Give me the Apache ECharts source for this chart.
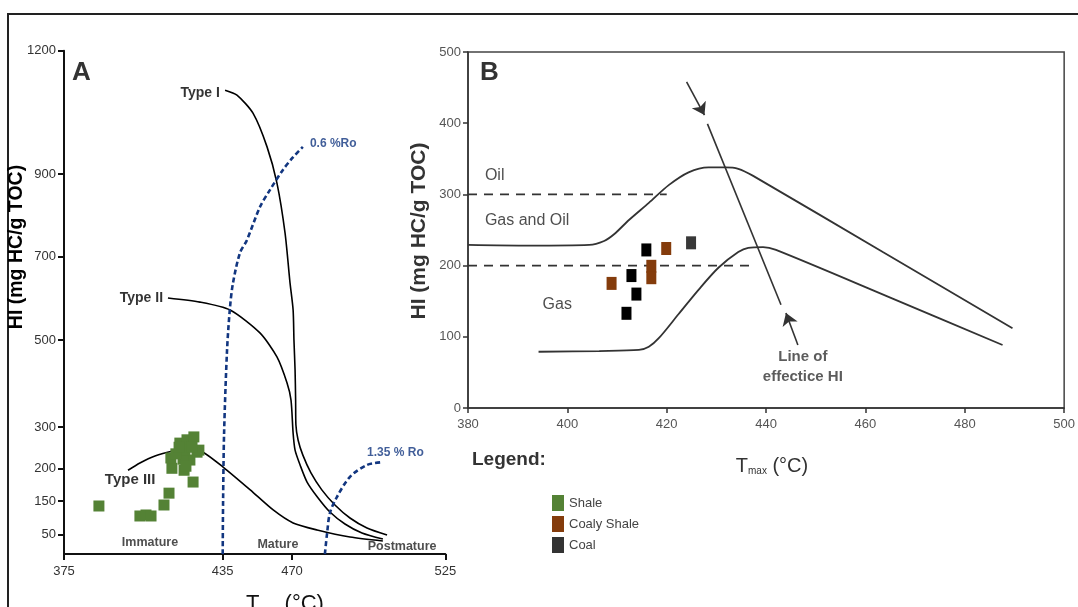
<!DOCTYPE html>
<html>
<head>
<meta charset="utf-8">
<script src="https://cdn.jsdelivr.net/npm/echarts@6/dist/echarts.min.js"></script>
<style>
  html, body { margin: 0; padding: 0; background: #fff; }
  #main { width: 1078px; height: 607px; }
</style>
</head>
<body>
<div id="main"></div>
<script>
// ---- panel A : HI vs Tmax, kerogen type curves ----
var aXTicks = [375, 435, 470, 525];
var aYTicks = [50, 150, 200, 300, 500, 700, 900, 1200];

var shaleTmax = [388.2, 403.7, 406.0, 407.9, 412.8, 414.7, 423.8, 415.8, 420.4, 415.4, 418.8, 421.5, 424.1, 425.3, 422.6, 420.0, 426.0, 420.7, 417.3, 423.4, 418.5, 421.1];
var shaleHI   = [135, 105, 108, 105, 138, 162, 179, 200, 197, 225, 261, 269, 276, 239, 220, 222, 244, 244, 235, 251, 251, 205];

var typeI = [[436.2, 1104], [442.2, 1092], [450.3, 1048], [457.4, 966], [462.4, 878], [466.5, 757], [469.0, 637], [470.4, 572], [470.7, 500], [471.1, 431], [471.3, 362], [471.4, 305], [472.2, 268], [473.9, 232], [476.8, 193], [480.7, 167], [485.4, 138], [490.8, 99], [496.9, 69], [504.1, 48]];
var typeII = [[414.3, 601], [426.4, 591], [438.7, 572], [453.8, 517], [462.4, 461], [467.5, 401], [469.5, 362], [470.4, 285], [471.1, 244], [472.9, 208], [475.4, 179], [479.3, 155], [483.6, 117], [489.0, 81], [495.1, 54], [502.6, 38]];
var typeIII = [[399.2, 197], [403.7, 213], [409.4, 230], [416.2, 242], [422.6, 249], [427.6, 239], [435.2, 203], [448.9, 167], [460.5, 123], [470.4, 84], [479.0, 63], [490.8, 43], [502.6, 33]];
var ro06 = [[435, 0], [435.2, 151], [435.7, 285], [437.2, 477], [438.7, 579], [440.2, 637], [443.7, 709], [447.2, 740], [453.8, 820], [458.8, 861], [465.4, 910], [470.4, 941], [473.9, 966]];
var ro135 = [[481.8, 0], [482.6, 54], [483.6, 114], [486.1, 156], [490.8, 187], [496.9, 208], [502.6, 215]];

// text in panel A: [text, Tmax, HI]
var aNotesLeft = [['Type I', 434.7, 1097], ['Type II', 413.2, 601]];
var aNotesRight = [['0.6 %Ro', 475.7, 973], ['1.35 % Ro', 496.2, 237]];
var aNotesCenter = [['Type III', 400, 182], ['Immature', 407.5, 30], ['Mature', 462.9, 25], ['Postmature', 509.5, 20]];

// ---- panel B : HI vs Tmax, oil / gas windows ----
var bXTicks = [380, 400, 420, 440, 460, 480, 500];
var bYTicks = [0, 100, 200, 300, 400, 500];

var coalyTmax = [408.9, 416.9, 416.9, 419.9];
var coalyHI   = [175, 199, 183, 224];
var coalTmax  = [411.9, 412.9, 413.9, 415.9, 424.9];
var coalHI    = [133, 186, 160, 222, 232];

var oilLine = [[380, 229], [392.4, 228], [404.4, 229], [407.4, 234.6], [409.4, 244], [412.4, 264], [416.4, 288], [420.4, 313], [424.4, 331], [428.4, 338], [431.8, 338], [434.4, 336], [437.4, 326], [463.5, 219], [489.6, 112]];
var gasLine = [[394.2, 79], [406.4, 80], [414.4, 81.5], [416.4, 86], [418.4, 98], [422.4, 132], [426.4, 166], [430.4, 197], [434.4, 219], [436.4, 225], [439.4, 226], [442, 222], [465, 155], [487.6, 88.5]];
var oilLimit = [[380, 300], [420, 300]];
var gasLimit = [[380, 200], [437.8, 200]];
var effHI = [[428.2, 399], [443, 145]];
var effArrowTop = [[424, 458], [427.6, 411.5]];
var effArrowBottom = [[446.4, 88.5], [444, 133.4]];

var bNotes = [['Oil', 383, 327], ['Gas and Oil', 383, 262.6], ['Gas', 394.6, 144.7]];

// ---------------------------------------------------------------
var FONT = 'Liberation Sans, Arial, sans-serif';
var NARROW = '"Liberation Sans Narrow", "Arial Narrow", Liberation Sans, sans-serif';

// panel A axes are hand drawn and not linear: piecewise scale
var aXKnots = { vals: [375, 435, 470, 525], pos: [0, 158.7, 228, 381.3] };
var aYKnots = { vals: [0, 50, 150, 200, 300, 500, 700, 900, 1200], pos: [0, 19.7, 53, 85.7, 127, 214, 297.3, 380, 503.3] };

function piece(v, k) {
  var i = 0;
  while (i < k.vals.length - 2 && v > k.vals[i + 1]) i++;
  return k.pos[i] + (v - k.vals[i]) * (k.pos[i + 1] - k.pos[i]) / (k.vals[i + 1] - k.vals[i]);
}
function ax(t) { return piece(t, aXKnots); }
function ay(h) { return piece(h, aYKnots); }
function toA(pts) { return pts.map(function (p) { return [ax(p[0]), ay(p[1])]; }); }
function tickName(list, fn) {
  return function (v) {
    for (var i = 0; i < list.length; i++) {
      if (Math.abs(fn(list[i]) - v) < 0.05) return String(list[i]);
    }
    return '';
  };
}
function zip(xs, ys) { return xs.map(function (x, i) { return [x, ys[i]]; }); }

function curveA(name, pts) {
  return {
    name: name, type: 'line', xAxisIndex: 0, yAxisIndex: 0,
    data: toA(pts), smooth: 0.25, showSymbol: false, silent: true,
    lineStyle: { color: '#000', width: 1.6 }, z: 3
  };
}
function roA(name, pts) {
  return {
    name: name, type: 'line', xAxisIndex: 0, yAxisIndex: 0,
    data: toA(pts), smooth: 0.3, showSymbol: false, silent: true,
    lineStyle: { color: '#123680', width: 2.6, type: [5, 3] }, z: 3
  };
}
function notes(list, xi, yi, pos, style, conv) {
  return {
    type: 'scatter', xAxisIndex: xi, yAxisIndex: yi, symbolSize: 0, silent: true, z: 10,
    data: list.map(function (n) {
      var c = conv ? [ax(n[1]), ay(n[2])] : [n[1], n[2]];
      return { value: c, name: n[0] };
    }),
    label: Object.assign({ show: true, position: pos, distance: 2, formatter: '{b}' }, style)
  };
}
function lineB(data, style, smooth) {
  return {
    type: 'line', xAxisIndex: 1, yAxisIndex: 1, data: data, smooth: smooth || 0,
    showSymbol: false, silent: true, lineStyle: style, z: 3
  };
}

var chart = echarts.init(document.getElementById('main'));

var axisA = { color: '#111', width: 2 };

var option = {
  animation: false,
  grid: [
    { left: 64, top: 50.7, width: 381.3, height: 503.3 },
    { left: 468, top: 52, width: 600, height: 356, show: true, borderColor: '#444', borderWidth: 1.5 }
  ],
  xAxis: [
    {
      gridIndex: 0, type: 'value', min: 0, max: 381.3,
      axisLine: { onZero: false, lineStyle: axisA },
      axisTick: { customValues: aXTicks.map(ax), length: 6, lineStyle: axisA },
      axisLabel: { customValues: aXTicks.map(ax), formatter: tickName(aXTicks, ax), margin: 11, fontSize: 13, color: '#333', fontFamily: NARROW },
      splitLine: { show: false }
    },
    {
      gridIndex: 1, type: 'value', min: 380, max: 500, interval: 20,
      axisLine: { onZero: false, lineStyle: { color: '#333', width: 1.5 } },
      axisTick: { length: 5, lineStyle: { color: '#333', width: 1.5 } },
      axisLabel: { margin: 10, fontSize: 13, color: '#555', fontFamily: FONT },
      splitLine: { show: false }
    }
  ],
  yAxis: [
    {
      gridIndex: 0, type: 'value', min: 0, max: 503.3,
      axisLine: { onZero: false, lineStyle: axisA },
      axisTick: { customValues: aYTicks.map(ay), length: 6, lineStyle: axisA },
      axisLabel: { customValues: aYTicks.map(ay), formatter: tickName(aYTicks, ay), margin: 8, fontSize: 13, color: '#333', fontFamily: NARROW },
      splitLine: { show: false }
    },
    {
      gridIndex: 1, type: 'value', min: 0, max: 500, interval: 100,
      axisLine: { onZero: false, lineStyle: { color: '#333', width: 1.5 } },
      axisTick: { length: 5, lineStyle: { color: '#333', width: 1.5 } },
      axisLabel: { margin: 7, fontSize: 13, color: '#555', fontFamily: FONT },
      splitLine: { show: false }
    }
  ],
  legend: {
    orient: 'vertical', left: 547, top: 490, itemWidth: 12, itemHeight: 16, itemGap: 5,
    selectedMode: false,
    textStyle: { fontSize: 13, color: '#444', fontFamily: FONT },
    data: [
      { name: 'Shale', icon: 'rect', itemStyle: { color: '#548235', opacity: 1 } },
      { name: 'Coaly Shale', icon: 'rect', itemStyle: { color: '#843c0c', opacity: 1 } },
      { name: 'Coal', icon: 'rect', itemStyle: { color: '#333', opacity: 1 } }
    ]
  },
  series: [
    curveA('Type I', typeI),
    curveA('Type II', typeII),
    curveA('Type III', typeIII),
    roA('0.6 %Ro', ro06),
    roA('1.35 % Ro', ro135),
    {
      name: 'Shale', type: 'scatter', xAxisIndex: 0, yAxisIndex: 0, z: 5,
      symbol: 'rect', symbolSize: [11, 11],
      itemStyle: { color: '#548235', opacity: 1 },
      data: toA(zip(shaleTmax, shaleHI))
    },
    notes(aNotesLeft, 0, 0, 'left', { fontSize: 14, fontWeight: 'bold', color: '#000', fontFamily: NARROW }, true),
    notes(aNotesRight, 0, 0, 'right', { fontSize: 12, fontWeight: 'bold', color: '#123680', fontFamily: NARROW }, true),
    notes(aNotesCenter.slice(0, 1), 0, 0, 'inside', { fontSize: 15, fontWeight: 'bold', color: '#000', fontFamily: NARROW }, true),
    notes(aNotesCenter.slice(1), 0, 0, 'inside', { fontSize: 12.5, fontWeight: 'bold', color: '#222', fontFamily: NARROW }, true),

    lineB(oilLine, { color: '#333', width: 1.8 }, 0.3),
    lineB(gasLine, { color: '#333', width: 1.8 }, 0.3),
    lineB(oilLimit, { color: '#333', width: 1.8, type: [9, 7] }),
    lineB(gasLimit, { color: '#333', width: 1.8, type: [9, 7] }),
    lineB(effHI, { color: '#333', width: 1.6 }),
    {
      type: 'lines', coordinateSystem: 'cartesian2d', xAxisIndex: 1, yAxisIndex: 1, silent: true, z: 4,
      symbol: ['none', 'arrow'], symbolSize: 12,
      lineStyle: { color: '#333', width: 1.6, opacity: 1 },
      data: [{ coords: effArrowTop }, { coords: effArrowBottom }]
    },
    {
      name: 'Coaly Shale', type: 'scatter', xAxisIndex: 1, yAxisIndex: 1, z: 5,
      symbol: 'rect', symbolSize: [10, 13],
      itemStyle: { color: '#843c0c', opacity: 1 },
      data: zip(coalyTmax, coalyHI)
    },
    {
      name: 'Coal', type: 'scatter', xAxisIndex: 1, yAxisIndex: 1, z: 5,
      symbol: 'rect', symbolSize: [10, 13],
      itemStyle: { opacity: 1, color: function (p) { return p.dataIndex === 4 ? '#383838' : '#000'; } },
      data: zip(coalTmax, coalHI)
    },
    notes(bNotes, 1, 1, 'right', { fontSize: 16, color: '#222', fontFamily: FONT }),
    notes([['Line of\neffectice HI', 447.4, 57.6]], 1, 1, 'inside', { fontSize: 15, fontWeight: 'bold', color: '#333', lineHeight: 20, fontFamily: FONT })
  ],
  graphic: [
    { type: 'polyline', shape: { points: [[8, 607], [8, 14], [1078, 14]] }, style: { stroke: '#222', lineWidth: 2, fill: null } },
    { type: 'text', left: 72, top: 60, style: { text: 'A', font: 'bold 26px ' + FONT, fill: '#333' } },
    { type: 'text', left: 480, top: 60, style: { text: 'B', font: 'bold 26px ' + FONT, fill: '#333' } },
    {
      type: 'text', x: 17, y: 247, rotation: Math.PI / 2,
      style: { text: 'HI (mg HC/g TOC)', font: 'bold 19.5px ' + FONT, fill: '#000', align: 'center', verticalAlign: 'middle' }
    },
    {
      type: 'text', x: 419, y: 231, rotation: Math.PI / 2,
      style: { text: 'HI (mg HC/g TOC)', font: 'bold 21px ' + FONT, fill: '#333', align: 'center', verticalAlign: 'middle' }
    },
    {
      type: 'text', x: 285, y: 603,
      style: {
        text: '{t|T}{s|max}{t| (°C)}', align: 'center', verticalAlign: 'middle',
        rich: {
          t: { font: '22px ' + FONT, fill: '#111', verticalAlign: 'bottom', lineHeight: 24 },
          s: { font: '10px ' + FONT, fill: '#111', verticalAlign: 'bottom', lineHeight: 10 }
        }
      }
    },
    {
      type: 'text', x: 772, y: 465,
      style: {
        text: '{t|T}{s|max}{t| (°C)}', align: 'center', verticalAlign: 'middle',
        rich: {
          t: { font: '20px ' + FONT, fill: '#333', verticalAlign: 'bottom', lineHeight: 22 },
          s: { font: '10px ' + FONT, fill: '#333', verticalAlign: 'bottom', lineHeight: 10 }
        }
      }
    },
    { type: 'text', left: 472, top: 450, style: { text: 'Legend:', font: 'bold 19px ' + FONT, fill: '#333' } }
  ]
};

chart.setOption(option);
</script>
</body>
</html>
